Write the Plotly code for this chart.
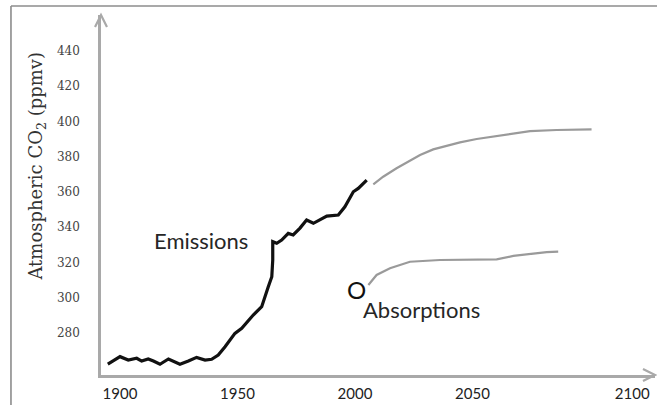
import plotly.graph_objects as go

# ---- data ----
emis_years = [1894.8, 1900.0, 1903.5, 1907.1, 1909.2, 1912.0, 1914.2, 1917.0, 1920.6, 1925.5,
              1929.1, 1932.6, 1936.2, 1939.0, 1941.8, 1944.7, 1948.9, 1951.8, 1956.7, 1960.3,
              1963.1, 1964.6, 1965.0, 1965.0, 1966.7, 1968.8, 1971.6, 1973.7, 1976.6, 1979.4,
              1982.3, 1988.0, 1992.9, 1995.7, 1999.3, 2001.4, 2005.0]
emis_ppm = [262.4, 266.6, 264.7, 265.7, 264.1, 265.3, 264.1, 262.3, 265.3, 262.3,
            264.1, 266.2, 264.7, 265.1, 267.5, 272.2, 279.8, 282.7, 290.2, 294.9,
            306.2, 311.9, 321.4, 331.8, 330.9, 332.7, 336.5, 335.6, 339.5, 344.1,
            342.2, 346.3, 346.9, 351.6, 360.1, 362.0, 366.7]

proj_years = [2007.8, 2012.0, 2017.7, 2023.4, 2027.7, 2033.3, 2039.0, 2044.7, 2051.8,
              2058.9, 2066.0, 2074.5, 2085.8, 2095.7, 2100.7]
proj_ppm = [364.3, 368.6, 373.4, 377.5, 380.9, 384.1, 386.2, 388.1, 390.0,
            391.3, 392.8, 394.5, 395.1, 395.6, 395.5]

abs_years = [2005.7, 2009.2, 2014.9, 2023.4, 2036.2, 2050.3, 2060.3, 2067.4, 2075.9, 2081.6, 2086.5]
abs_ppm = [307.2, 312.9, 316.7, 320.4, 321.4, 321.8, 321.8, 323.7, 324.8, 325.9, 326.1]

y_tick_vals = [280, 300, 320, 340, 360, 380, 400, 420, 440]
# the "2100" label sits further right in the original drawing than a uniform scale gives
x_tick_vals = [1900, 1950, 2000, 2050, 2118]
x_tick_text = ["1900", "1950", "2000", "2050", "2100"]

label_emissions = ("Emissions", 1934.5, 332.2)
label_absorptions = ("Absorptions", 2028.3, 293.6)
label_origin = ("O", 2000.7, 304.8)

AX = "#a9a9a9"
fig = go.Figure()
fig.add_trace(go.Scatter(x=emis_years, y=emis_ppm, mode="lines",
                         line=dict(color="#111111", width=3.2), hoverinfo="skip"))
fig.add_trace(go.Scatter(x=proj_years, y=proj_ppm, mode="lines",
                         line=dict(color="#9a9a9a", width=2.2), hoverinfo="skip"))
fig.add_trace(go.Scatter(x=abs_years, y=abs_ppm, mode="lines",
                         line=dict(color="#9a9a9a", width=2.2), hoverinfo="skip"))

ann_font = dict(family="Lato, Open Sans, sans-serif", size=22, color="#262626")
for txt, xx, yy in [label_emissions, label_absorptions]:
    fig.add_annotation(x=xx, y=yy, text=txt, showarrow=False, font=ann_font,
                       xanchor="center", yanchor="middle")
fig.add_annotation(x=label_origin[1], y=label_origin[2], text=label_origin[0], showarrow=False,
                   font=dict(family="Lato, Open Sans, sans-serif", size=24, color="#111111"),
                   xanchor="center", yanchor="middle")

# y-axis title
fig.add_annotation(xref="paper", yref="paper", x=-0.1155, y=0.579,
                   text="Atmospheric CO<sub>2</sub> (ppmv)", textangle=-90, showarrow=False,
                   font=dict(family="DejaVu Serif, serif", size=18, color="#333333"),
                   xanchor="center", yanchor="middle")

# outer frame
frame = dict(color="#8c8c8c", width=1.6)
fig.add_shape(type="line", xref="paper", yref="paper", x0=-0.1625, x1=-0.1625, y0=1.025, y1=-0.1,
              line=frame)
fig.add_shape(type="line", xref="paper", yref="paper", x0=-0.1625, x1=1.02, y0=1.025, y1=1.025,
              line=frame)
# arrow heads on the axes
fig.add_shape(type="path", xref="paper", yref="paper",
              path="M -0.0108,0.9667 L 0,1 L 0.0108,0.9667", line=dict(color=AX, width=2.2))
fig.add_shape(type="path", xref="paper", yref="paper",
              path="M 0.9783,0.0167 L 1,0 L 0.9783,-0.0167", line=dict(color=AX, width=2.2))

fig.update_layout(
    width=657, height=405,
    margin=dict(l=101, r=2, t=15, b=30),
    paper_bgcolor="white", plot_bgcolor="white",
    showlegend=False,
    xaxis=dict(range=[1891.9, 2127.7], showgrid=False, zeroline=False,
               showline=True, linecolor=AX, linewidth=2.5,
               tickvals=x_tick_vals, ticktext=x_tick_text,
               ticks="outside", ticklen=3, tickcolor="rgba(0,0,0,0)",
               tickfont=dict(family="Lato, Open Sans, sans-serif", size=15, color="#222222")),
    yaxis=dict(range=[256.2, 460.3], showgrid=False, zeroline=False,
               showline=True, linecolor=AX, linewidth=2.5,
               tickvals=y_tick_vals,
               ticks="outside", ticklen=16, tickcolor="rgba(0,0,0,0)",
               tickfont=dict(family="DejaVu Serif, serif", size=12, color="#444444")),
)

fig.write_html("out.html", config={"displayModeBar": False},
               post_script="document.body.style.margin='0px';document.body.style.overflow='hidden';")
